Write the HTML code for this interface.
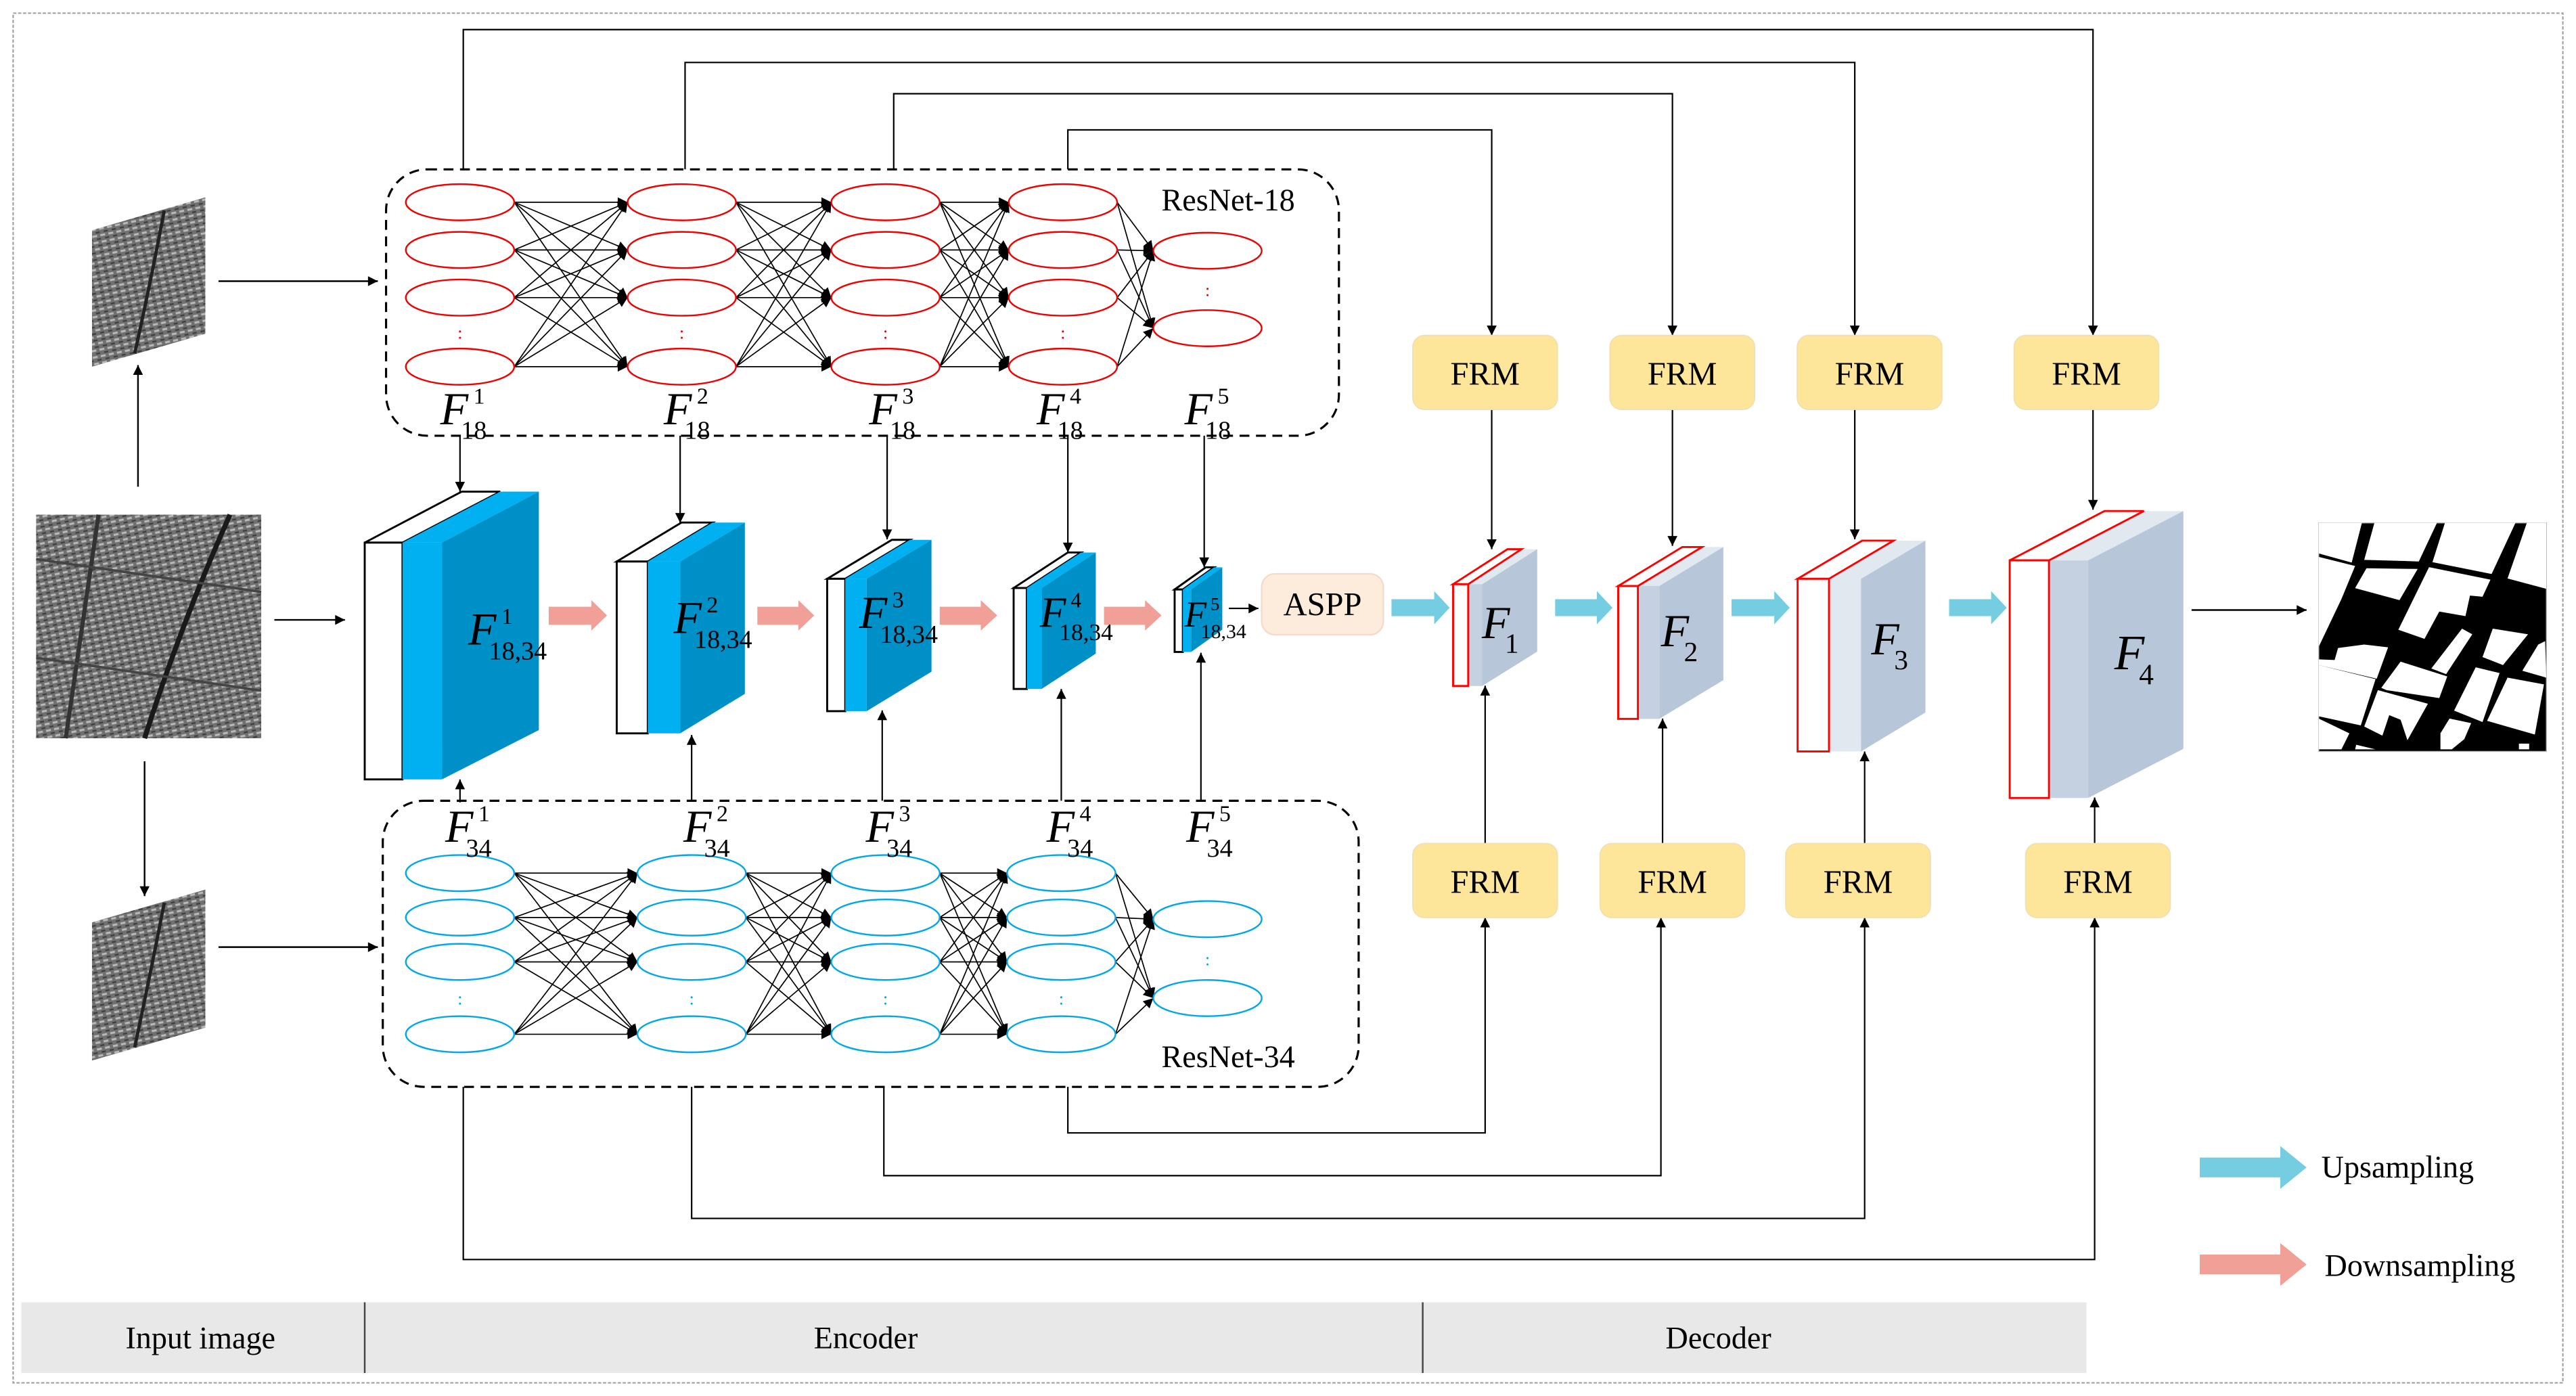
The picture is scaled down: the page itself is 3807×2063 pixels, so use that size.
<!DOCTYPE html>
<html><head><meta charset="utf-8"><style>
html,body{margin:0;padding:0;background:#fff;}
svg{display:block;}
text{font-family:"Liberation Serif",serif;fill:#000;}
</style></head><body>
<svg id="s" width="3807" height="2063" viewBox="0 0 1568 849" preserveAspectRatio="none" xmlns="http://www.w3.org/2000/svg">
<defs>
<marker id="ar" viewBox="0 0 10 10" refX="10" refY="5" markerWidth="7" markerHeight="6" markerUnits="userSpaceOnUse" orient="auto"><path d="M0,0 L10,5 L0,10 z" fill="#000"/></marker>
<pattern id="tex" width="5" height="4" patternUnits="userSpaceOnUse" patternTransform="rotate(-12)">
<rect width="5" height="4" fill="#707070"/><rect x="0" y="0" width="3" height="1.3" fill="#b8b8b8"/><rect x="2.5" y="2.2" width="2.5" height="1" fill="#404040"/></pattern>
</defs>
<rect x="8" y="8" width="1552" height="833" fill="none" stroke="#999" stroke-width="0.8" stroke-dasharray="2,1"/>
<!-- bottom bar -->
<rect x="13" y="792" width="1257" height="43" fill="#e8e8e8"/>
<line x1="222" y1="792" x2="222" y2="835" stroke="#444" stroke-width="1"/>
<line x1="866" y1="792" x2="866" y2="835" stroke="#444" stroke-width="1"/>
<text x="122" y="820" font-size="19" text-anchor="middle">Input image</text>
<text x="527" y="820" font-size="19" text-anchor="middle">Encoder</text>
<text x="1046" y="820" font-size="19" text-anchor="middle">Decoder</text>

<!-- input images -->
<rect x="22" y="313" width="137" height="136" fill="url(#tex)"/>
<path d="M60,313 Q50,380 40,449" stroke="#333" stroke-width="2.5" fill="none"/>
<path d="M140,313 Q110,380 88,449" stroke="#1a1a1a" stroke-width="3" fill="none"/>
<path d="M22,340 L159,360 M22,400 L159,420" stroke="#444" stroke-width="1.5" fill="none"/>
<polygon points="56,140 125,120 125,203 56,223" fill="url(#tex)"/>
<path d="M100,128 Q92,170 82,215" stroke="#222" stroke-width="2" fill="none"/>
<polygon points="56,561 125,541 125,625 56,645" fill="url(#tex)"/>
<path d="M100,549 Q92,590 82,637" stroke="#222" stroke-width="2" fill="none"/>

<g stroke="#000" stroke-width="1" fill="none">
<line x1="84" y1="296" x2="84" y2="222" marker-end="url(#ar)"/>
<line x1="88" y1="463" x2="88" y2="545" marker-end="url(#ar)"/>
<line x1="133" y1="171" x2="230" y2="171" marker-end="url(#ar)"/>
<line x1="133" y1="576" x2="230" y2="576" marker-end="url(#ar)"/>
<line x1="167" y1="377" x2="210" y2="377" marker-end="url(#ar)"/>
<line x1="1334" y1="371" x2="1404" y2="371" marker-end="url(#ar)"/>
</g>

<!-- output image -->
<rect x="1411.4" y="318" width="138.6" height="139" fill="#000" stroke="#bbb" stroke-width="0.6"/>
<g transform="translate(1400.3,308.9) scale(0.1385)" fill="#fff">
<polygon points="80,65 270,65 225,240 80,200"/>
<polygon points="325,65 600,65 520,235 280,228"/>
<polygon points="635,65 945,65 840,290 580,238"/>
<polygon points="995,65 1080,65 1080,355 910,310"/>
<polygon points="80,215 240,255 180,400 80,610"/>
<polygon points="290,265 515,268 435,405 240,352"/>
<polygon points="565,260 835,315 800,390 745,385 725,475 610,455 545,575 430,535"/>
<polygon points="845,530 1000,555 890,690 800,655"/>
<polygon points="710,530 755,555 640,730 575,705"/>
<polygon points="165,615 280,600 385,612 335,750 80,690 80,665 150,668"/>
<polygon points="80,690 330,752 265,955 80,915"/>
<polygon points="440,675 645,740 610,835 378,800 355,790"/>
<polygon points="340,800 560,860 470,1020 440,930 390,910 360,1000 280,960"/>
<polygon points="770,700 875,725 800,940 675,890"/>
<polygon points="910,745 1070,775 1030,995 820,935"/>
<polygon points="1075,585 1080,745 975,715 1045,600"/>
<polygon points="655,925 750,945 720,1015 665,1060 615,1060 615,990"/>
<polygon points="80,925 215,990 180,1060 80,1060"/>
<polygon points="245,1040 330,1060 240,1060"/>
<polygon points="960,1035 1005,1035 1005,1060 960,1060"/>
</g>

<!-- ResNet boxes -->
<rect x="235" y="103" width="580" height="162" rx="25" fill="none" stroke="#000" stroke-width="1.3" stroke-dasharray="6,4"/>
<text x="707" y="128" font-size="19">ResNet-18</text>
<rect x="233" y="487" width="594" height="174" rx="25" fill="none" stroke="#000" stroke-width="1.3" stroke-dasharray="6,4"/>
<text x="707" y="649" font-size="19">ResNet-34</text>
<g id="nets"></g>

<!-- skip lines -->
<g stroke="#000" stroke-width="0.9" fill="none">
<polyline points="282,103 282,18 1274,18 1274,204" marker-end="url(#ar)"/>
<polyline points="417,103 417,38 1129,38 1129,204" marker-end="url(#ar)"/>
<polyline points="544,103 544,57 1018,57 1018,204" marker-end="url(#ar)"/>
<polyline points="650,103 650,79 908,79 908,204" marker-end="url(#ar)"/>
<polyline points="650,661 650,689 904,689 904,558" marker-end="url(#ar)"/>
<polyline points="538,661 538,715 1011,715 1011,558" marker-end="url(#ar)"/>
<polyline points="421,661 421,741 1135,741 1135,558" marker-end="url(#ar)"/>
<polyline points="282,661 282,766 1275,766 1275,558" marker-end="url(#ar)"/>
<line x1="280" y1="265" x2="280" y2="299" marker-end="url(#ar)"/>
<line x1="414" y1="265" x2="414" y2="318" marker-end="url(#ar)"/>
<line x1="540" y1="265" x2="540" y2="328" marker-end="url(#ar)"/>
<line x1="650" y1="265" x2="650" y2="336" marker-end="url(#ar)"/>
<line x1="733" y1="265" x2="733" y2="345" marker-end="url(#ar)"/>
<line x1="280" y1="488" x2="280" y2="474" marker-end="url(#ar)"/>
<line x1="421" y1="487" x2="421" y2="447" marker-end="url(#ar)"/>
<line x1="537" y1="487" x2="537" y2="432" marker-end="url(#ar)"/>
<line x1="646" y1="487" x2="646" y2="419" marker-end="url(#ar)"/>
<line x1="731" y1="487" x2="731" y2="397" marker-end="url(#ar)"/>
<line x1="748" y1="370" x2="766" y2="370" marker-end="url(#ar)"/>
<line x1="908" y1="249" x2="908" y2="334" marker-end="url(#ar)"/>
<line x1="1018" y1="249" x2="1018" y2="332" marker-end="url(#ar)"/>
<line x1="1129" y1="249" x2="1129" y2="328" marker-end="url(#ar)"/>
<line x1="1274" y1="249" x2="1274" y2="310" marker-end="url(#ar)"/>
<line x1="904" y1="513" x2="904" y2="417" marker-end="url(#ar)"/>
<line x1="1012" y1="513" x2="1012" y2="437" marker-end="url(#ar)"/>
<line x1="1135" y1="513" x2="1135" y2="457" marker-end="url(#ar)"/>
<line x1="1275" y1="513" x2="1275" y2="485" marker-end="url(#ar)"/>
</g>

<!-- encoder blocks -->
<g stroke="#000" stroke-width="1.2">
<polygon points="222,330 281,299 304.5,299 245,330" fill="#fff"/>
<rect x="222" y="330" width="23" height="144" fill="#fff"/>
</g>
<polygon points="245,330 304.5,299 328,299 269,330" fill="#00b0f0"/>
<rect x="245" y="330" width="24" height="144" fill="#00b0f0"/>
<polygon points="269,330 328,299 328,444 269,474" fill="#0090c8"/>

<g stroke="#000" stroke-width="1.2">
<polygon points="375.4,341.5 414.8,317.8 433.7,317.8 394.3,341.5" fill="#fff"/>
<rect x="375.4" y="341.5" width="18.9" height="104.5" fill="#fff"/>
</g>
<polygon points="394.3,341.5 433.7,317.8 453.4,317.8 414,341.5" fill="#00b0f0"/>
<rect x="394.3" y="341.5" width="19.7" height="104.5" fill="#00b0f0"/>
<polygon points="414,341.5 453.4,317.8 453.4,422 414,446" fill="#0090c8"/>

<g stroke="#000" stroke-width="1.2">
<polygon points="503.5,352 542.9,328.3 553.9,328.3 514.5,352" fill="#fff"/>
<rect x="503.5" y="352" width="11" height="80.5" fill="#fff"/>
</g>
<polygon points="514.5,352 553.9,328.3 567,328.3 527.5,352" fill="#00b0f0"/>
<rect x="514.5" y="352" width="13" height="80.5" fill="#00b0f0"/>
<polygon points="527.5,352 567,328.3 567,408.5 527.5,432.5" fill="#0090c8"/>

<g stroke="#000" stroke-width="1.2">
<polygon points="617,357.6 650,336 658,336 625,357.6" fill="#fff"/>
<rect x="617" y="357.6" width="8" height="61.4" fill="#fff"/>
</g>
<polygon points="625,357.6 658,336 667,336 634,357.6" fill="#00b0f0"/>
<rect x="625" y="357.6" width="9" height="61.4" fill="#00b0f0"/>
<polygon points="634,357.6 667,336 667,397.5 634,419" fill="#0090c8"/>

<g stroke="#000" stroke-width="1.2">
<polygon points="715,358.5 734,345 739,345 720,358.5" fill="#fff"/>
<rect x="715" y="358.5" width="5" height="38" fill="#fff"/>
</g>
<polygon points="720,358.5 739,345 744,345 725,358.5" fill="#00b0f0"/>
<rect x="720" y="358.5" width="5" height="38" fill="#00b0f0"/>
<polygon points="725,358.5 744,345 744,383 725,396.5" fill="#0090c8"/>

<!-- pink arrows -->
<g fill="#f0a096">
<polygon points="334,369 360,369 360,365 369.5,374.3 360,383.5 360,380 334,380"/>
<polygon points="461,369 486,369 486,365 495.6,374.3 486,383.5 486,380 461,380"/>
<polygon points="572,369 597,369 597,365 607,374.3 597,383.5 597,380 572,380"/>
<polygon points="672,369 697,369 697,365 707,374.3 697,383.5 697,380 672,380"/>
<polygon points="1339,763 1388,763 1388,756 1404,769 1388,782 1388,775 1339,775"/>
</g>
<!-- cyan arrows -->
<g fill="#74cde0">
<polygon points="847,364.4 873,364.4 873,359.5 882.4,369.6 873,379.7 873,374.7 847,374.7"/>
<polygon points="946.6,364.4 972,364.4 972,359.5 981.5,369.6 972,379.7 972,374.7 946.6,374.7"/>
<polygon points="1054,364.4 1080,364.4 1080,359.5 1089.4,369.6 1080,379.7 1080,374.7 1054,374.7"/>
<polygon points="1186.4,364.4 1212,364.4 1212,359.5 1221.5,369.6 1212,379.7 1212,374.7 1186.4,374.7"/>
<polygon points="1339,704 1388,704 1388,697 1404,710 1388,723 1388,716 1339,716"/>
</g>
<text x="1413" y="716" font-size="19">Upsampling</text>
<text x="1415" y="776" font-size="19">Downsampling</text>

<g id="lbl"></g>

<!-- ASPP -->
<rect x="768" y="349" width="74" height="37" rx="8" fill="#fdebdc" stroke="#f3dccb"/>
<text x="805" y="374" font-size="20" text-anchor="middle">ASPP</text>

<!-- decoder blocks -->
<g>
<polygon points="893.7,355.3 926.1,334 935.7,334 902.2,355.3" fill="#e1e8f0"/>
<rect x="893.7" y="355.3" width="8.5" height="61.9" fill="#c5d1e0"/>
<polygon points="902.2,355.3 935.7,334 935.7,396.3 902.2,417.2" fill="#b7c7d9"/>
<polygon points="884.5,355.3 917.6,334 926.1,334 893.7,355.3" fill="#fff" stroke="red" stroke-width="1.2"/>
<rect x="884.5" y="355.3" width="9.2" height="61.9" fill="#fff" stroke="red" stroke-width="1.2"/>

<polygon points="997,356.4 1036,332.7 1049,332.7 1010,356.4" fill="#e1e8f0"/>
<rect x="997" y="356.4" width="13" height="80.8" fill="#c5d1e0"/>
<polygon points="1010,356.4 1049,332.7 1049,413.6 1010,437.2" fill="#b7c7d9"/>
<polygon points="985,356.4 1024,332.7 1036,332.7 997,356.4" fill="#fff" stroke="red" stroke-width="1.2"/>
<rect x="985" y="356.4" width="12" height="80.8" fill="#fff" stroke="red" stroke-width="1.2"/>

<polygon points="1113.3,352 1152.6,328.8 1172,328.8 1132.8,352" fill="#e1e8f0"/>
<rect x="1113.3" y="352" width="19.5" height="105" fill="#e1e8f0"/>
<polygon points="1132.8,352 1172,328.8 1172,433.3 1132.8,457" fill="#b7c7d9"/>
<polygon points="1094.2,352 1133.5,328.8 1152.6,328.8 1113.3,352" fill="#fff" stroke="red" stroke-width="1.2"/>
<rect x="1094.2" y="352" width="19.1" height="105" fill="#fff" stroke="red" stroke-width="1.2"/>

<polygon points="1247.2,340.8 1305,310.8 1329,310.8 1271,340.8" fill="#e1e8f0"/>
<rect x="1247.2" y="340.8" width="23.8" height="144.5" fill="#c5d1e0"/>
<polygon points="1271,340.8 1329,310.8 1329,455.4 1271,485.3" fill="#b7c7d9"/>
<polygon points="1223.3,340.8 1281,310.8 1305,310.8 1247.2,340.8" fill="#fff" stroke="red" stroke-width="1.2"/>
<rect x="1223.3" y="340.8" width="23.9" height="144.5" fill="#fff" stroke="red" stroke-width="1.2"/>
</g>
<g font-style="italic">
<text x="902" y="388" font-size="28">F</text><text x="1011" y="393" font-size="28">F</text>
<text x="1139" y="398" font-size="28">F</text><text x="1287" y="407" font-size="30">F</text>
</g>
<text x="916" y="397" font-size="17">1</text><text x="1025" y="402" font-size="17">2</text>
<text x="1153" y="407" font-size="17">3</text><text x="1302" y="416" font-size="18">4</text>

<!-- FRM boxes -->
<g fill="#fde59a" stroke="#f2e0b0" stroke-width="0.8">
<rect x="860" y="204" width="88" height="45" rx="7"/><rect x="980" y="204" width="88" height="45" rx="7"/>
<rect x="1094" y="204" width="88" height="45" rx="7"/><rect x="1226" y="204" width="88" height="45" rx="7"/>
<rect x="860" y="513" width="88" height="45" rx="7"/><rect x="974" y="513" width="88" height="45" rx="7"/>
<rect x="1087" y="513" width="88" height="45" rx="7"/><rect x="1233" y="513" width="88" height="45" rx="7"/>
</g>
<g font-size="20" text-anchor="middle">
<text x="904" y="234">FRM</text><text x="1024" y="234">FRM</text><text x="1138" y="234">FRM</text><text x="1270" y="234">FRM</text>
<text x="904" y="543">FRM</text><text x="1018" y="543">FRM</text><text x="1131" y="543">FRM</text><text x="1277" y="543">FRM</text>
</g>
</svg>
<script>
var NS="http://www.w3.org/2000/svg";
function el(p,t,a,txt){var e=document.createElementNS(NS,t);for(var k in a)e.setAttribute(k,a[k]);if(txt!=null)e.textContent=txt;p.appendChild(e);return e;}
var g=document.getElementById("nets");
function net(cols,rows,rows5,col){
 for(var i=0;i<4;i++){var a=rows,b=(i<3)?rows:rows5;
  for(var r=0;r<a.length;r++)for(var s=0;s<b.length;s++)
   el(g,"line",{x1:cols[i]+33,y1:a[r],x2:cols[i+1]-33,y2:b[s],stroke:"#000","stroke-width":"0.7","marker-end":"url(#ar)"});}
 for(var i=0;i<5;i++){var rr=i<4?rows:rows5;
  for(var r=0;r<rr.length;r++)el(g,"ellipse",{cx:cols[i],cy:rr[r],rx:33,ry:11,fill:"#fff",stroke:col,"stroke-width":"1"});
  var dy=i<4?(rows[2]+rows[3])/2:(rows5[0]+rows5[1])/2;
  el(g,"text",{x:cols[i],y:dy+4,"font-size":"11","text-anchor":"middle",style:"fill:"+col},":");}
}
net([280,415,539,647,735],[123,152,181,223],[152.5,199.6],"#f00000");
net([280,421,539,646,735],[531,558,585,629],[559,607],"#00a8e8");
var L=document.getElementById("lbl");
function F(x,y,sup,sub,fs){el(L,"text",{x:x,y:y,"font-size":fs,"font-style":"italic"},"F");
 el(L,"text",{x:x+fs*0.72,y:y-fs*0.45,"font-size":fs*0.5},sup);
 el(L,"text",{x:x+fs*0.45,y:y+fs*0.32,"font-size":fs*0.56},sub);}
[[268,258,"1"],[404,258,"2"],[529,258,"3"],[631,258,"4"],[721,258,"5"]].forEach(function(a){F(a[0],a[1],a[2],"18",28);});
[[271,512,"1"],[416,512,"2"],[527,512,"3"],[637,512,"4"],[722,512,"5"]].forEach(function(a){F(a[0],a[1],a[2],"34",28);});
F(285,392,"1","18,34",28);F(410,385,"2","18,34",28);F(523,382,"3","18,34",28);F(633,381,"4","18,34",26);F(721,381,"5","18,34",22);
</script>
</body></html>
